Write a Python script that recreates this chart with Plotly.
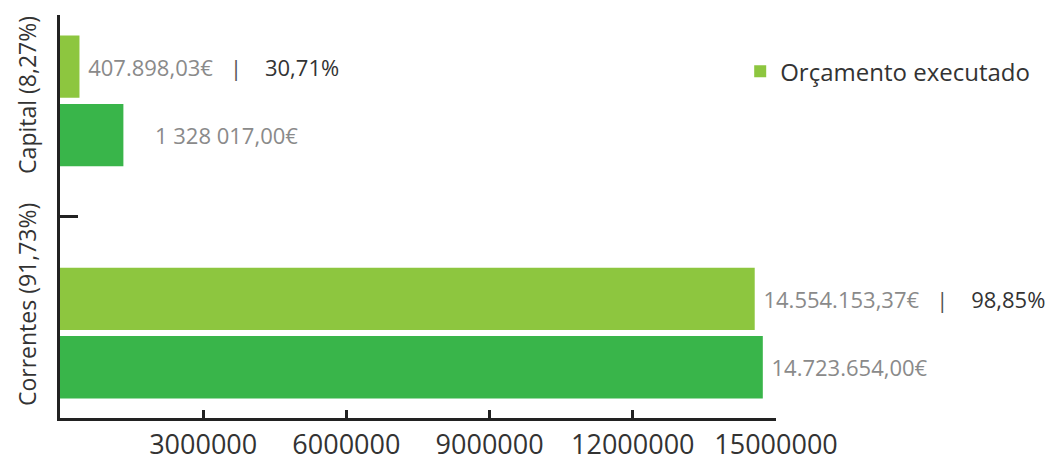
import plotly.graph_objects as go

categories = ["Correntes (91,73%)", "Capital (8,27%)"]
executado = [14554153.37, 407898.03]
orcamento = [14723654.00, 1328017.00]
executado_labels = ["14.554.153,37€", "407.898,03€"]
execucao_pct = ["98,85%", "30,71%"]
orcamento_labels = ["14.723.654,00€", "1 328 017,00€"]
x_ticks = [3000000, 6000000, 9000000, 12000000, 15000000]

LIGHT_GREEN = "#8DC63F"
DARK_GREEN = "#39B54A"
FONT = "Open Sans"
NB = "\u00a0"

exec_text = [
    f"{NB}{lab}{NB * 3}<span style='color:#555'>|</span>{NB * 4}"
    f"<span style='color:#333'>{pct}</span>"
    for lab, pct in zip(executado_labels, execucao_pct)
]
# capital label sits a bit further from its bar in the original
orc_text = [NB + orcamento_labels[0], NB * 5 + orcamento_labels[1]]

fig = go.Figure()
fig.add_trace(go.Bar(
    y=categories, x=orcamento, orientation="h", name="Orçamento",
    marker=dict(color=DARK_GREEN, line=dict(width=0)),
    text=orc_text, textposition="outside", cliponaxis=False,
    constraintext="none",
    textfont=dict(family=FONT, size=22, color="#8a8a8a"),
    showlegend=False, hoverinfo="skip",
))
fig.add_trace(go.Bar(
    y=categories, x=executado, orientation="h", name="Orçamento executado",
    marker=dict(color=LIGHT_GREEN, line=dict(width=0)),
    text=exec_text, textposition="outside", cliponaxis=False,
    constraintext="none",
    textfont=dict(family=FONT, size=22, color="#8a8a8a"),
    hoverinfo="skip",
))

# category labels, drawn as rotated annotations (they sit a little above
# the bar groups in the original)
label_shift = {categories[0]: 28, categories[1]: 6}
for cat in categories:
    fig.add_annotation(
        x=0, xref="paper", y=cat, yref="y", text=cat, showarrow=False,
        textangle=-90, xanchor="right", xshift=-15, yshift=label_shift[cat],
        font=dict(family=FONT, size=23, color="#333"),
    )

fig.update_layout(
    width=1055, height=460,
    margin=dict(l=52, r=287, t=7, b=50),
    paper_bgcolor="white", plot_bgcolor="white",
    barmode="group", bargap=0.41, bargroupgap=0.09,
    font=dict(family=FONT, color="#333"),
    legend=dict(
        x=0.95, y=0.915, xanchor="left", yanchor="top",
        font=dict(family=FONT, size=24, color="#333"),
        bgcolor="rgba(0,0,0,0)",
    ),
    xaxis=dict(
        range=[0, 15000000], tickvals=x_ticks,
        ticktext=[str(v) for v in x_ticks],
        showgrid=False, zeroline=False, automargin=False,
        showline=True, linecolor="#222", linewidth=2.5,
        ticks="inside", ticklen=8, tickwidth=2.5, tickcolor="#222",
        tickfont=dict(family=FONT, size=27, color="#333"),
        ticklabelstandoff=1,
    ),
    yaxis=dict(
        type="category", categoryorder="array", categoryarray=categories,
        range=[-0.366, 1.37], automargin=False,
        showgrid=False, zeroline=False, showticklabels=False,
        showline=True, linecolor="#222", linewidth=2.5,
        ticks="inside", tickson="boundaries", ticklen=18, tickwidth=2.5,
        tickcolor="#222",
    ),
)

fig.write_html("out.html")
